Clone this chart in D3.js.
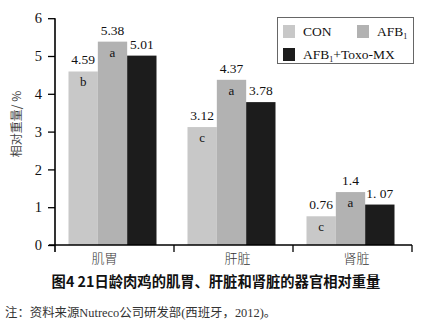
<!DOCTYPE html>
<html><head><meta charset="utf-8">
<script src="https://cdn.jsdelivr.net/npm/d3@7/dist/d3.min.js"></script>
<style>body{margin:0;background:#fff}svg{display:block}</style>
</head><body>
<svg id="c" width="430" height="329"></svg>
<script>
const categories = ["肌胃", "肝脏", "肾脏"];
const seriesNames = ["CON", "AFB1", "AFB1+Toxo-MX"];
const conValues = [4.59, 3.12, 0.76];
const afbValues = [5.38, 4.37, 1.4];
const toxoValues = [5.01, 3.78, 1.07];
const conLabels = ["4.59", "3.12", "0.76"];
const afbLabels = ["5.38", "4.37", "1.4"];
const toxoLabels = ["5.01", "3.78", "1. 07"];
const conLetters = ["b", "c", "c"];
const afbLetters = ["a", "a", "a"];
const toxoLetters = ["", "", ""];
const yTicks = [0, 1, 2, 3, 4, 5, 6];
const yLabel = "相对重量/ %";
const title = "图4\u00a021日龄肉鸡的肌胃、肝脏和肾脏的器官相对重量";
const note = "注：资料来源Nutreco公司研发部(西班牙，2012)。";

const colors = ["#c8c8c8", "#b2b2b2", "#1c1c1c"];
const serif = "'Liberation Serif','Times New Roman',serif";
const cjk = "'Noto Sans CJK SC',sans-serif";

const svg = d3.select("#c");
const x0 = d3.scaleBand().domain(categories).range([55, 412]).paddingInner(0).paddingOuter(0);
const x1 = d3.scaleBand().domain(seriesNames).range([0, 88]);
const y = d3.scaleLinear().domain([0, 6]).range([245, 18.2]);

const series = [
  {name: seriesNames[0], values: conValues, labels: conLabels, letters: conLetters, color: colors[0]},
  {name: seriesNames[1], values: afbValues, labels: afbLabels, letters: afbLetters, color: colors[1]},
  {name: seriesNames[2], values: toxoValues, labels: toxoLabels, letters: toxoLetters, color: colors[2]}
];

const groupStart = c => x0(c) + (x0.bandwidth() - 88) / 2 - 2;

series.forEach(s => {
  const g = svg.append("g");
  categories.forEach((c, i) => {
    const bx = groupStart(c) + x1(s.name);
    g.append("rect").attr("x", bx).attr("y", y(s.values[i]))
      .attr("width", x1.bandwidth()).attr("height", y(0) - y(s.values[i]))
      .attr("fill", s.color);
    g.append("text").attr("x", bx + x1.bandwidth() / 2).attr("y", y(s.values[i]) - 7)
      .attr("text-anchor", "middle").attr("font-family", serif).attr("font-size", 13.5)
      .attr("fill", "#111").attr("xml:space", "preserve").text(s.labels[i]);
    if (s.letters[i]) {
      g.append("text").attr("x", bx + x1.bandwidth() / 2).attr("y", y(s.values[i]) + 15)
        .attr("text-anchor", "middle").attr("font-family", serif).attr("font-size", 13)
        .attr("fill", "#111").text(s.letters[i]);
    }
  });
});

// Y axis
const yAxis = d3.axisLeft(y).tickValues(yTicks).tickSize(7).tickPadding(6).tickFormat(d3.format("d"));
const ya = svg.append("g").attr("transform", "translate(55,0)").call(yAxis);
ya.select(".domain").attr("d", "M0,18.2V252").attr("stroke", "#000").attr("stroke-width", 1.6);
ya.selectAll(".tick line").attr("stroke", "#000").attr("stroke-width", 1.3);
ya.selectAll(".tick text").attr("font-family", serif).attr("font-size", 14.5).attr("fill", "#111");

// X axis
const xa = svg.append("g").attr("transform", "translate(0,245)");
xa.append("line").attr("x1", 49).attr("x2", 412).attr("y1", 0).attr("y2", 0)
  .attr("stroke", "#000").attr("stroke-width", 1.6);
categories.forEach((c, i) => {
  const xe = x0(c) + x0.bandwidth();
  xa.append("line").attr("x1", xe).attr("x2", xe).attr("y1", 0).attr("y2", 7)
    .attr("stroke", "#000").attr("stroke-width", 1.3);
});
const labelShift = [-10, 4, 4];
categories.forEach((c, i) => {
  xa.append("text").attr("x", x0(c) + x0.bandwidth() / 2 + labelShift[i]).attr("y", 18)
    .attr("text-anchor", "middle").attr("font-family", cjk).attr("font-size", 13)
    .attr("font-weight", 300).attr("fill", "#333").text(c);
});

// Y label
svg.append("text").attr("transform", "translate(21,124) rotate(-90)")
  .attr("text-anchor", "middle").attr("font-family", cjk).attr("font-size", 12)
  .attr("fill", "#444").text(yLabel);

// Legend
const lg = svg.append("g");
lg.append("rect").attr("x", 277.5).attr("y", 17.5).attr("width", 136).attr("height", 46)
  .attr("fill", "#fff").attr("stroke", "#666").attr("stroke-width", 1);
const legendPos = [[283, 25], [357, 25], [283, 48]];
series.forEach((s, i) => {
  const [lx, ly] = legendPos[i];
  lg.append("rect").attr("x", lx).attr("y", ly).attr("width", 12).attr("height", 13).attr("fill", s.color);
  const t = lg.append("text").attr("x", lx + 20).attr("y", ly + 11)
    .attr("font-family", serif).attr("font-size", 13.5).attr("fill", "#111");
  const m = s.name.match(/^AFB1(.*)$/);
  if (m) {
    t.append("tspan").text("AFB");
    t.append("tspan").attr("font-size", 8).attr("dy", 3).text("1");
    if (m[1]) t.append("tspan").attr("dy", -3).text(m[1]);
  } else t.text(s.name);
});

// Title & note
svg.append("text").attr("x", 216).attr("y", 287).attr("text-anchor", "middle")
  .attr("font-family", cjk).attr("font-size", 14.3).attr("font-weight", 700)
  .attr("fill", "#111").text(title);
svg.append("text").attr("x", 5).attr("y", 317)
  .attr("font-family", "'Liberation Serif','Noto Sans CJK SC',serif").attr("font-size", 12.4)
  .attr("fill", "#333").text(note);
</script>
</body></html>
